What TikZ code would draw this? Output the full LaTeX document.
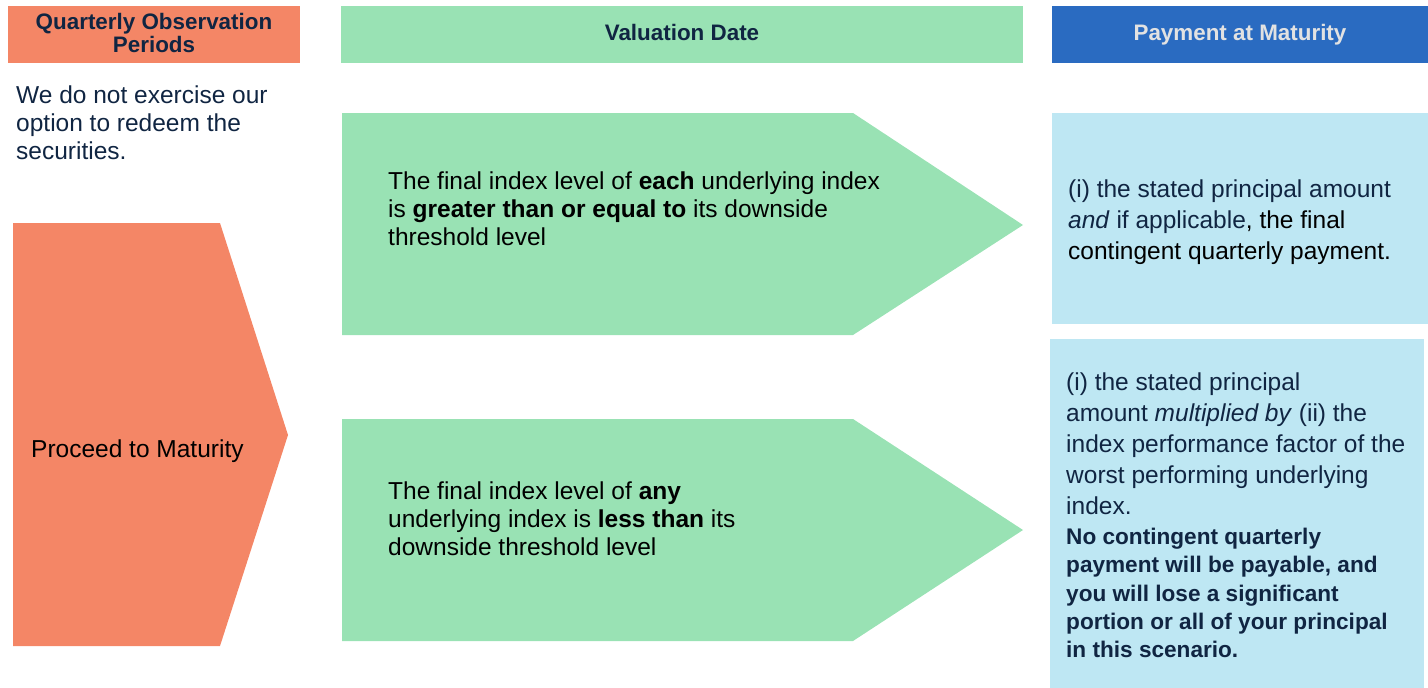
\documentclass[tikz,border=0pt]{standalone}
\usepackage{fontspec}
\setmainfont{Liberation Sans}
\usepackage{tikz}
\usetikzlibrary{positioning}
\definecolor{qorange}{RGB}{244,134,102}
\definecolor{vgreen}{RGB}{153,226,180}
\definecolor{pblue}{RGB}{42,107,193}
\definecolor{plight}{RGB}{190,231,243}
\definecolor{navy}{RGB}{16,37,66}
\definecolor{hgrey}{RGB}{226,226,226}
\tikzstyle{head} = [rectangle, inner sep=0pt, minimum height=57pt, text depth=4pt,
    text centered, align=center, font=\bfseries\fontsize{22.4}{23}\selectfont]
\tikzstyle{txt} = [inner sep=0pt, anchor=north west, align=left,
    font=\fontsize{24.5}{28}\selectfont]
\tikzstyle{ptxt} = [txt, font=\fontsize{24.5}{31}\selectfont, text=navy]
\tikzstyle{btxt} = [txt, font=\bfseries\fontsize{22.6}{28.3}\selectfont, text=navy]

\begin{document}
\begin{tikzpicture}[x=1pt, y=-1pt]
	\useasboundingbox (0,0) rectangle (1428,688);
% headers
	\node [head, fill=qorange, text=navy, minimum width=292pt] (qhead) at (154,34.5) {Quarterly Observation\\Periods};
	\node [head, fill=vgreen, text=navy, minimum width=682pt] (vhead) at (682,34.5) {Valuation Date};
	\node [head, fill=pblue, text=hgrey, minimum width=376pt] (phead) at (1240,34.5) {Payment at Maturity};
	
% shapes
	\fill [qorange] (13,223) -- (220,223) -- (288,435) -- (220,646) -- (13,646) -- cycle;
	\fill [vgreen] (342,113) -- (853,113) -- (1023,225) -- (853,335) -- (342,335) -- cycle;
	\fill [vgreen] (342,419) -- (853,419) -- (1023,530) -- (853,641) -- (342,641) -- cycle;
	\fill [plight] (1052,113) rectangle (1428,324);
	\fill [plight] (1050,339) rectangle (1424,688);
	
% texts
	\node [txt, text=navy] (noredeem) at (16,85.5) {We do not exercise our\\option to redeem the\\securities.};
	\node [txt, anchor=base west] (proceed) at (31,457) {Proceed to Maturity};
	\node [txt] (each) at (388,172) {The final index level of \textbf{each} underlying index\\is \textbf{greater than or equal to} its downside\\threshold level};
	\node [txt] (any) at (388,482) {The final index level of \textbf{any}\\underlying index is \textbf{less than} its\\downside threshold level};
	\node [ptxt] (full) at (1068,180) {(i) the stated principal amount\\\textit{and} if applicable\textcolor{black}{, the final}\\\textcolor{black}{contingent quarterly payment.}};
	\node [ptxt] (lose) at (1066,373) {(i) the stated principal\\amount \textit{multiplied by} (ii) the\\index performance factor of the\\worst performing underlying\\index.};
	\node [btxt] (losewarn) at (1066,528) {No contingent quarterly\\payment will be payable, and\\you will lose a significant\\portion or all of your principal\\in this scenario.};
	
\end{tikzpicture}
\end{document}
